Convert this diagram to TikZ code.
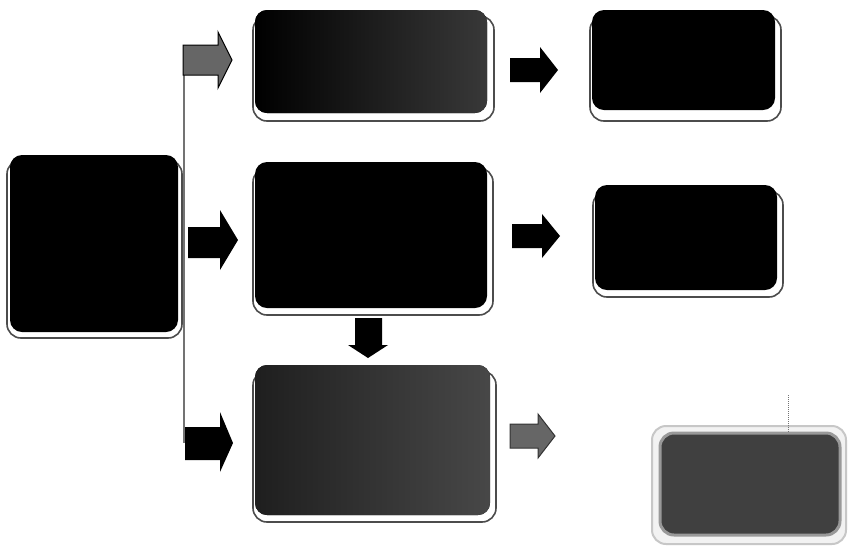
\documentclass[tikz,border=0pt]{standalone}
\usetikzlibrary{calc}
\begin{document}
\begin{tikzpicture}[x=1pt,y=-1pt,
  box/.style={rounded corners=12pt, fill=black},
  shadowbox/.style={rounded corners=14pt, draw=black!70, line width=1.6pt, fill=white},
  blk/.style={fill=black},
  gry/.style={fill=black!60},
  conn/.style={draw=black!55, line width=1.2pt}]
\useasboundingbox (0,0) rectangle (848,550);
\fill[white] (0,0) rectangle (848,550);

% shadows
\draw[shadowbox] (7,160) rectangle (182,338);
\draw[shadowbox] (253,16) rectangle (494,121);
\draw[shadowbox] (590,16) rectangle (781,121);
\draw[shadowbox] (253,168) rectangle (493,315);
\draw[shadowbox] (593,191) rectangle (783,297);
\draw[shadowbox] (253,371) rectangle (496,522);
\draw[rounded corners=14pt, draw=black!22, line width=2pt, fill=black!5] (652,426) rectangle (846,544);

% boxes
\node[box, minimum width=168pt, minimum height=177pt, inner sep=0pt] (L) at (94,243.5) {};
\node[box, minimum width=232pt, minimum height=103pt, inner sep=0pt, left color=black, right color=black!78] (T) at (371,61.5) {};
\node[box, minimum width=183pt, minimum height=100pt, inner sep=0pt] (TR) at (683.5,60) {};
\node[box, minimum width=232pt, minimum height=146pt, inner sep=0pt] (M) at (371,235) {};
\node[box, minimum width=182pt, minimum height=105pt, inner sep=0pt] (MR) at (686,237.5) {};
\node[box, minimum width=235pt, minimum height=150pt, inner sep=0pt, left color=black!88, right color=black!72] (B) at (372.5,440) {};
\node[rounded corners=14pt, fill=black!75, draw=black!40, line width=3pt, minimum width=180pt, minimum height=102pt, inner sep=0pt] (BR) at (750,484) {};

% branch line
\coordinate (vt) at (184,73);
\coordinate (vb) at (184,443);
\draw[conn] (vt) -- (vb);
\draw[densely dotted, black!55, line width=1pt] (788,395) -- (BR.north -| 788,0);

% left block arrows
\fill[gry,draw=black,line width=1pt] (183,45) -- (218,45) -- (218,32) -- (232,60) -- (218,88) -- (218,75) -- (183,75) -- cycle;
\fill[blk] (188,227) -- (220,227) -- (220,210) -- (238,240) -- (220,270) -- (220,258) -- (188,258) -- cycle;
\fill[blk] (185,427) -- (220,427) -- (220,412) -- (233,443) -- (220,472) -- (220,460) -- (185,460) -- cycle;

% right block arrows
\fill[blk] (510,58) -- (540,58) -- (540,47) -- (558,70) -- (540,93) -- (540,82) -- (510,82) -- cycle;
\fill[blk] (512,224) -- (542,224) -- (542,214) -- (560,236) -- (542,258) -- (542,248) -- (512,248) -- cycle;
\fill[gry,draw=black!80,line width=1pt] (510,424) -- (538,424) -- (538,414) -- (555,436) -- (538,458) -- (538,448) -- (510,448) -- cycle;

% down arrow
\fill[blk] (355,318) -- (382,318) -- (382,345) -- (388,345) -- (368,358) -- (348,345) -- (355,345) -- cycle;
\end{tikzpicture}
\end{document}
